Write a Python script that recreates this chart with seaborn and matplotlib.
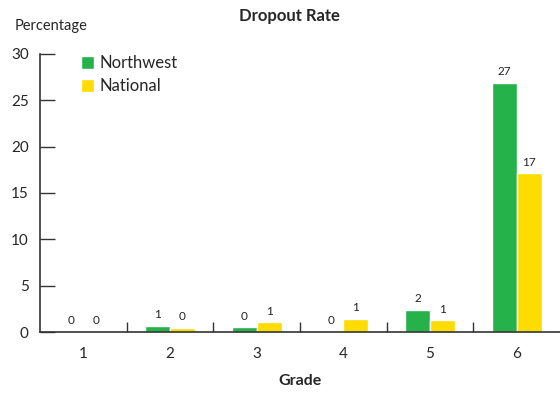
import matplotlib
matplotlib.use("Agg")
import matplotlib.pyplot as plt
import seaborn as sns
import pandas as pd
import numpy as np

# values
grades = ["1", "2", "3", "4", "5", "6"]
northwest = [0.05, 0.7, 0.5, 0.05, 2.4, 26.9]
national = [0.05, 0.45, 1.08, 1.45, 1.26, 17.1]
series = ["Northwest", "National"]
colores = ["#25b24a", "#fedc00"]

df = pd.DataFrame({
    "Grade": grades * 2,
    "Percentage": northwest + national,
    "Serie": [series[0]] * len(grades) + [series[1]] * len(grades),
})

sns.set_style("white")
plt.rcParams['font.family'] = ['Lato', 'DejaVu Sans']

fig = plt.figure(figsize=(5.6, 3.93), dpi=100)
ax = fig.add_axes([0.0714, 0.155, 0.9286, 0.708])

sns.barplot(data=df, x="Grade", y="Percentage", hue="Serie", palette=colores,
            width=0.58, ax=ax, saturation=1, legend=True)

for cont in ax.containers:
    ax.bar_label(cont, fmt="%.0f", padding=4, fontsize=8.5, color="#222222")

ax.set_xlim(-0.5, 5.5)
ax.set_ylim(0, 30)
ax.set_yticks([0, 5, 10, 15, 20, 25, 30])
ax.set_xlabel("Grade", fontsize=11.5, fontweight="bold", labelpad=9)
ax.set_ylabel("")
ax.set_title("Dropout Rate", fontsize=12, fontweight="bold", pad=24, x=0.48)
fig.text(0.027, 0.915, "Percentage", fontsize=10.5, ha="left", va="bottom")

for s in ["top", "right"]:
    ax.spines[s].set_visible(False)
for s in ["left", "bottom"]:
    ax.spines[s].set_color("#333333")
    ax.spines[s].set_linewidth(1.2)

ax.tick_params(axis="y", direction="in", length=11, width=1, color="#333333",
               labelsize=11, pad=8, left=True)
ax.tick_params(axis="x", length=0, labelsize=11, pad=11)
ax.set_xticks(np.arange(0.5, 5.5, 1), minor=True)
ax.tick_params(axis="x", which="minor", direction="in", length=7, width=1,
               color="#333333", bottom=True)

ax.legend(loc="upper left", bbox_to_anchor=(0.05, 1.05), frameon=False,
          fontsize=12, handlelength=0.8, handleheight=0.8, handletextpad=0.3,
          labelspacing=0.45)

fig.savefig("out.png", dpi=100)
